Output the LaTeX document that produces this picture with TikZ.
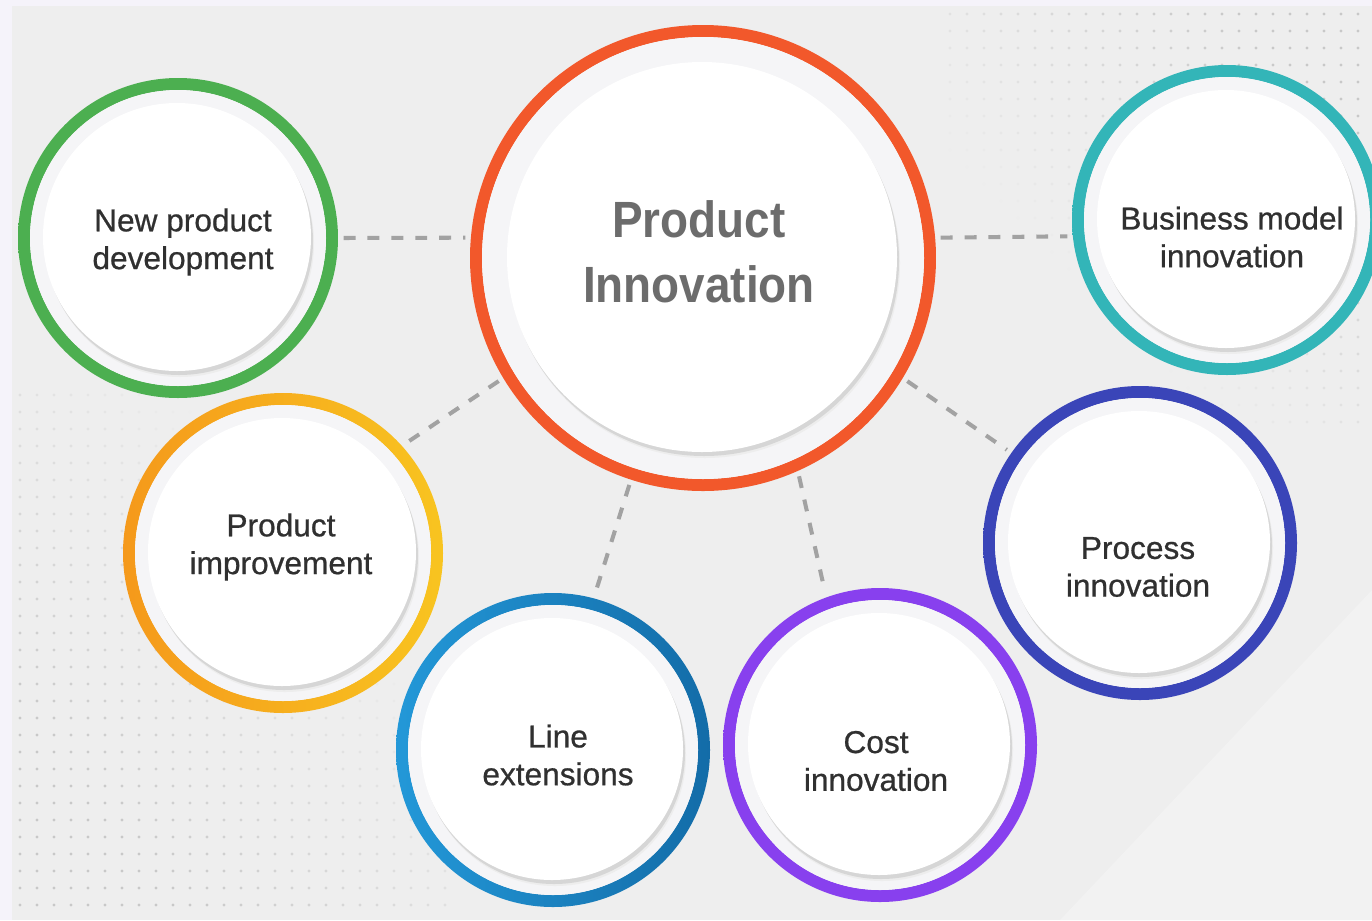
\documentclass[tikz,border=0pt]{standalone}
\usepackage{fontspec}
\setmainfont{Liberation Sans}
\newfontfamily\labelfont[FakeBold=0.7]{Liberation Sans}
\usetikzlibrary{calc}

\definecolor{ringgreen}{HTML}{4CAF50}
\definecolor{ringred}{HTML}{F2582B}
\definecolor{ringteal}{HTML}{33B5B8}
\definecolor{ringorange}{HTML}{F5991B}
\definecolor{ringyellow}{HTML}{F8C420}
\definecolor{ringblueL}{HTML}{2398D8}
\definecolor{ringblueD}{HTML}{136CA8}
\definecolor{ringpurple}{HTML}{8840EE}
\definecolor{ringnavy}{HTML}{3A45B8}
\definecolor{bgbase}{HTML}{EEEEEE}
\definecolor{bglight}{HTML}{F2F2F2}
\definecolor{edgetint}{HTML}{F5F3FA}
\definecolor{dotgray}{HTML}{C8C8C8}
\definecolor{dashgray}{HTML}{A2A2A2}
\definecolor{gapfill}{HTML}{F5F5F7}
\definecolor{labeltext}{HTML}{303030}
\definecolor{titletext}{HTML}{6C6C6C}

\tikzset{
  bubble/.style={circle, inner sep=0pt, minimum size=#1},
  lbl/.style={align=center, text=labeltext, inner sep=0pt,
    font=\labelfont\fontsize{18}{21.5}\selectfont},
  headline/.style={align=center, text=titletext, inner sep=0pt,
    font=\fontsize{29}{37}\selectfont\bfseries},
  link/.style={dashgray, line width=2.3pt, dash pattern=on 6.8pt off 6.8pt,
    shorten >=3pt, shorten <=3pt}
}

\begin{document}
\begin{tikzpicture}[x=0.02cm, y=-0.02cm]
  \useasboundingbox (0,0) rectangle (1372,920);

  % background
  \fill[edgetint] (0,0) rectangle (1372,920);
  \fill[bgbase] (12,6) rectangle (1372,920);
  \fill[bglight] (1060,920) -- (1372,590) -- (1372,920) -- cycle;

  % dot grids
  \foreach \x in {20,37,...,445}
    \foreach \y in {395,412,...,915} {
      \pgfmathsetmacro\op{max(0,min(1,1.4-(\x-12)/440-(920-\y)/520))}
      \fill[dotgray, opacity=\op] (\x,\y) circle[radius=1.7];
    }
  \foreach \x in {950,967,...,1372}
    \foreach \y in {14,31,...,430} {
      \pgfmathsetmacro\op{max(0,min(1,1.35-(1372-\x)/430-\y/430))}
      \fill[dotgray, opacity=\op] (\x,\y) circle[radius=1.7];
    }

  % bubbles
  \node[bubble=9.32cm] (main) at (703,258) {};
  \node[bubble=6.4cm] (newdev) at (178,238) {};
  \node[bubble=6.4cm] (improve) at (283,553) {};
  \node[bubble=6.28cm] (lineext) at (553,750) {};
  \node[bubble=6.28cm] (cost) at (880,745) {};
  \node[bubble=6.28cm] (process) at (1140,543) {};
  \node[bubble=6.2cm] (business) at (1227,220) {};

  \foreach \n/\r/\ri/\ca/\cb in {main/233/195/ringred/ringred,
      newdev/160/134/ringgreen/ringgreen,
      improve/160/134/ringorange/ringyellow,
      lineext/157/131/ringblueL/ringblueD,
      cost/157/131/ringpurple/ringpurple,
      process/157/131/ringnavy/ringnavy,
      business/155/129/ringteal/ringteal} {
    \shade[left color=\ca, right color=\cb, even odd rule]
      (\n) circle[radius=\r] circle[radius=\r-12];
    \fill[gapfill] (\n) circle[radius=\r-12];
    \fill[black!7] ($(\n)+(2,5)$) circle[radius=\ri];
    \fill[black!16] ($(\n)+(1,3)$) circle[radius=\ri];
    \fill[white] ($(\n)+(-1,-1)$) circle[radius=\ri];
  }

  % texts
  \node[headline] (maintext) at ($(main)+(-4,-1)$)
    {\scalebox{0.9}[1]{\begin{tabular}{@{}c@{}}Product\\Innovation\end{tabular}}};
  \node[lbl] (newdevtext) at ($(newdev)+(5,4)$) {New product\\development};
  \node[lbl] (improvetext) at ($(improve)+(-2,-6)$) {Product\\improvement};
  \node[lbl] (lineexttext) at ($(lineext)+(5,5)$) {Line\\extensions};
  \node[lbl] (costtext) at ($(cost)+(-4,16)$) {Cost\\innovation};
  \node[lbl] (processtext) at ($(process)+(-2,24)$) {Process\\innovation};
  \node[lbl] (businesstext) at ($(business)+(5,17)$) {Business model\\innovation};

  % dashed links
  \draw[link] (newdev.0) -- (main.175);
  \draw[link] (main.5) -- (business.186);
  \draw[link] (main.211) -- (improve.42);
  \draw[link] (main.252) -- (lineext.75);
  \draw[link] (main.294) -- (cost.110);
  \draw[link] (main.329) -- (process.145);
\end{tikzpicture}
\end{document}
